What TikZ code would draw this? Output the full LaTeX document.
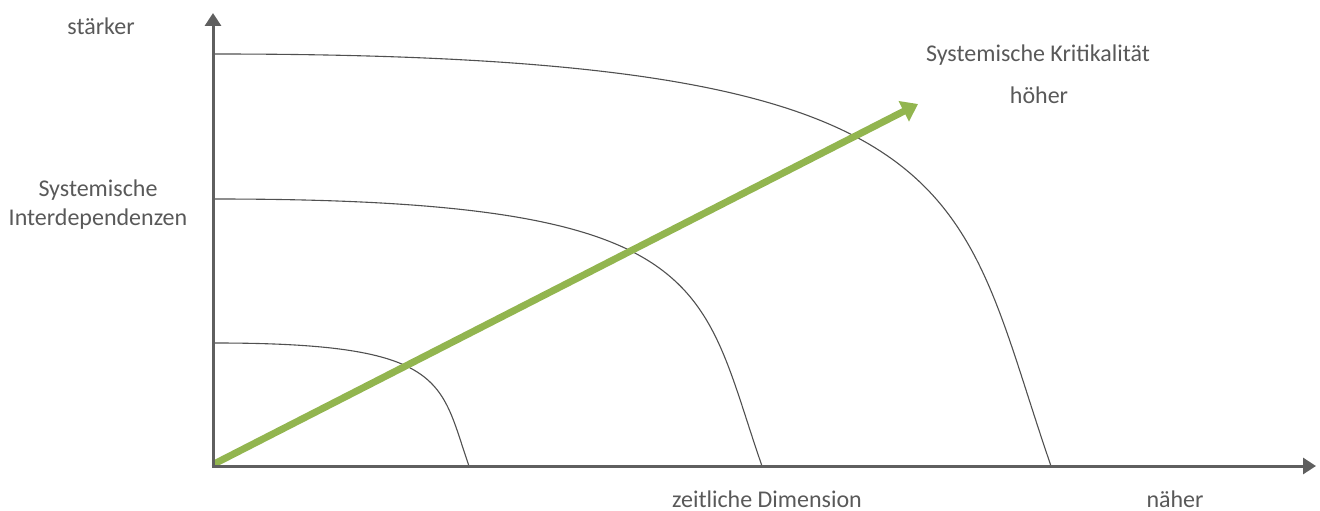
\documentclass[tikz,border=0pt]{standalone}
\usepackage{fontspec}
\setmainfont{Carlito}
\usetikzlibrary{arrows.meta}
\definecolor{axisgray}{HTML}{5F5F5F}
\definecolor{txtgray}{HTML}{595959}
\definecolor{curvegray}{HTML}{505050}
\definecolor{kgreen}{HTML}{92B54F}
\tikzset{
  axisline/.style={draw=axisgray, line width=3pt, -{Triangle[length=13pt,width=16pt]}},
  curveline/.style={draw=curvegray, line width=1.1pt},
  greenarrow/.style={draw=kgreen, line width=7pt, -{Triangle[length=16pt,width=22pt]}},
  lbl/.style={text=txtgray, font=\fontsize{24}{29}\selectfont, align=center, inner sep=0pt}
}
\begin{document}
\begin{tikzpicture}[x=1pt,y=-1pt]
\useasboundingbox (0,0) rectangle (1320,511);
\coordinate (O) at (213,466);
\coordinate (ytip) at (213,13);
\coordinate (xtip) at (1316,466);
\coordinate (gs) at (214,464);
\coordinate (gtip) at (918,104);
% curves
\coordinate (c1s) at (215,54);  \coordinate (c1e) at (1051,466);
\coordinate (c2s) at (215,199); \coordinate (c2e) at (762,466);
\coordinate (c3s) at (215,343); \coordinate (c3e) at (469,466);
\draw[curveline] (c1s) .. controls (984,54) and (953.5,183.5) .. (c1e);
\draw[curveline] (c2s) .. controls (718,199) and (698.3,283) .. (c2e);
\draw[curveline] (c3s) .. controls (448.7,343) and (439.5,381.7) .. (c3e);
% green arrow
\draw[greenarrow] (gs) -- (gtip);
% axes
\draw[axisline] ([yshift=1.5pt]O) -- (ytip);
\draw[axisline] ([xshift=-1.5pt]O) -- (xtip);
% labels
\node[lbl] (staerker) at (101,26) {stärker};
\node[lbl] (sysint) at (98,205) {Systemische\\Interdependenzen};
\node[lbl] (krit) at (1038,55) {Systemische Kritikalität};
\node[lbl] (hoeher) at (1039,95) {höher};
\node[lbl] (zeit) at (767,499) {zeitliche Dimension};
\node[lbl] (naeher) at (1175,499) {näher};
\end{tikzpicture}
\end{document}
